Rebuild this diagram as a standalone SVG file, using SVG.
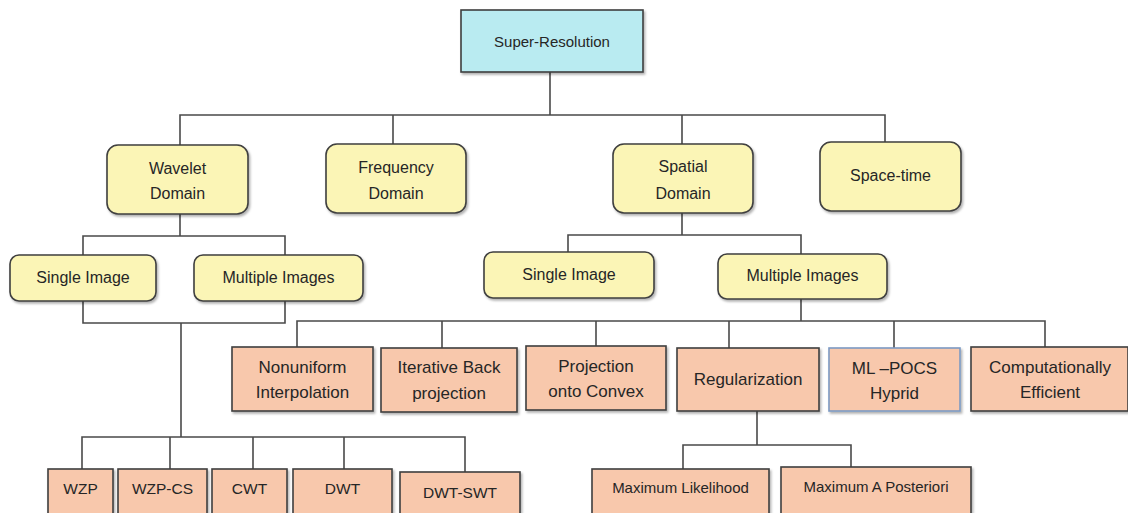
<svg xmlns="http://www.w3.org/2000/svg" width="1128" height="513" viewBox="0 0 1128 513">
  <defs>
    <filter id="shadow" x="-10%" y="-10%" width="130%" height="140%">
      <feDropShadow dx="1.5" dy="2" stdDeviation="1.2" flood-color="#000" flood-opacity="0.3"/>
    </filter>
    <style>
      rect { stroke: #3f3f3f; stroke-width: 1.6; filter: url(#shadow); }
      .root { fill: #b9ebf1; }
      .cat { fill: #fbf5b6; }
      .method { fill: #f8c8ac; }
      .blue { stroke: #7c9ac4; }
      text { font-family: "Liberation Sans", Arial, sans-serif; fill: #262626; text-anchor: middle; dominant-baseline: central; }
      .t15 { font-size: 15px; }
      .t155 { font-size: 15.5px; }
      .t16 { font-size: 16px; }
      .t17 { font-size: 17px; }
      #connectors path { fill: none; stroke: #4a4a4a; stroke-width: 1.6; }
    </style>
  </defs>
  <rect x="0" y="0" width="1128" height="513" fill="#ffffff" style="stroke:none;filter:none"/>

  <!-- tree edges -->
  <g id="connectors">
    <path d="M550 72 V115 M180 145 V115 H885 V142 M393 115 V144 M682 115 V144"/>
    <path d="M180 214 V236 M83 255 V236 H285 V255"/>
    <path d="M83 301 V323 H285 V301 M181 323 V437"/>
    <path d="M82 469 V437 H465 V472 M170 437 V469 M253 437 V469 M344 437 V469"/>
    <path d="M682 213 V235 M568 252 V235 H801 V254"/>
    <path d="M801 299 V321 M297 347 V321 H1045 V347 M442 321 V348 M596 321 V346 M729 321 V348 M894 321 V348"/>
    <path d="M757 411 V445 M683 469 V445 H851 V467"/>
  </g>

  <g id="super-resolution">
    <rect class="root" x="461" y="10" width="182" height="62"/>
    <text class="t15" x="552" y="41">Super-Resolution</text>
  </g>

  <g id="wavelet-domain">
    <rect class="cat" x="107" y="145" width="141" height="69" rx="11"/>
    <text class="t16" x="177.5" y="168">Wavelet</text>
    <text class="t16" x="177.5" y="193">Domain</text>
  </g>
  <g id="frequency-domain">
    <rect class="cat" x="326" y="144" width="140" height="69" rx="11"/>
    <text class="t16" x="396" y="167">Frequency</text>
    <text class="t16" x="396" y="193">Domain</text>
  </g>
  <g id="spatial-domain">
    <rect class="cat" x="613" y="144" width="140" height="69" rx="11"/>
    <text class="t16" x="683" y="166">Spatial</text>
    <text class="t16" x="683" y="193">Domain</text>
  </g>
  <g id="space-time">
    <rect class="cat" x="820" y="142" width="141" height="69" rx="11"/>
    <text class="t16" x="890.5" y="175">Space-time</text>
  </g>

  <g id="wavelet-single-image">
    <rect class="cat" x="10" y="255" width="146" height="46" rx="9"/>
    <text class="t16" x="83" y="277">Single Image</text>
  </g>
  <g id="wavelet-multiple-images">
    <rect class="cat" x="194" y="255" width="169" height="46" rx="9"/>
    <text class="t16" x="278.5" y="277">Multiple Images</text>
  </g>
  <g id="spatial-single-image">
    <rect class="cat" x="484" y="252" width="170" height="46" rx="9"/>
    <text class="t16" x="569" y="274">Single Image</text>
  </g>
  <g id="spatial-multiple-images">
    <rect class="cat" x="718" y="254" width="169" height="45" rx="9"/>
    <text class="t16" x="802.5" y="275">Multiple Images</text>
  </g>

  <g id="nonuniform-interpolation">
    <rect class="method" x="232" y="347" width="141" height="64"/>
    <text class="t17" x="302.5" y="367">Nonuniform</text>
    <text class="t17" x="302.5" y="392">Interpolation</text>
  </g>
  <g id="iterative-back-projection">
    <rect class="method" x="381" y="348" width="136" height="64"/>
    <text class="t17" x="449" y="367">Iterative Back</text>
    <text class="t17" x="449" y="393">projection</text>
  </g>
  <g id="projection-onto-convex">
    <rect class="method" x="526" y="346" width="140" height="64"/>
    <text class="t17" x="596" y="366">Projection</text>
    <text class="t17" x="596" y="391">onto Convex</text>
  </g>
  <g id="regularization">
    <rect class="method" x="677" y="348" width="142" height="63"/>
    <text class="t17" x="748" y="379">Regularization</text>
  </g>
  <g id="ml-pocs-hyprid">
    <rect class="method blue" x="829" y="348" width="131" height="63"/>
    <text class="t17" x="894.5" y="368">ML –POCS</text>
    <text class="t17" x="894.5" y="393">Hyprid</text>
  </g>
  <g id="computationally-efficient">
    <rect class="method" x="971" y="347" width="157" height="64"/>
    <text class="t17" x="1050" y="367">Computationally</text>
    <text class="t17" x="1050" y="392">Efficient</text>
  </g>

  <g id="maximum-likelihood">
    <rect class="method" x="592" y="469" width="177" height="60"/>
    <text class="t15" x="680.5" y="487">Maximum Likelihood</text>
  </g>
  <g id="maximum-a-posteriori">
    <rect class="method" x="781" y="467" width="190" height="60"/>
    <text class="t15" x="876" y="486">Maximum A Posteriori</text>
  </g>

  <g id="wzp">
    <rect class="method" x="48" y="469" width="65" height="60"/>
    <text class="t155" x="80.5" y="488">WZP</text>
  </g>
  <g id="wzp-cs">
    <rect class="method" x="118" y="469" width="89" height="60"/>
    <text class="t155" x="162.5" y="488">WZP-CS</text>
  </g>
  <g id="cwt">
    <rect class="method" x="212" y="469" width="75" height="60"/>
    <text class="t155" x="249.5" y="488">CWT</text>
  </g>
  <g id="dwt">
    <rect class="method" x="293" y="469" width="99" height="60"/>
    <text class="t155" x="342.5" y="488">DWT</text>
  </g>
  <g id="dwt-swt">
    <rect class="method" x="400" y="472" width="120" height="60"/>
    <text class="t155" x="460" y="492">DWT-SWT</text>
  </g>
</svg>
